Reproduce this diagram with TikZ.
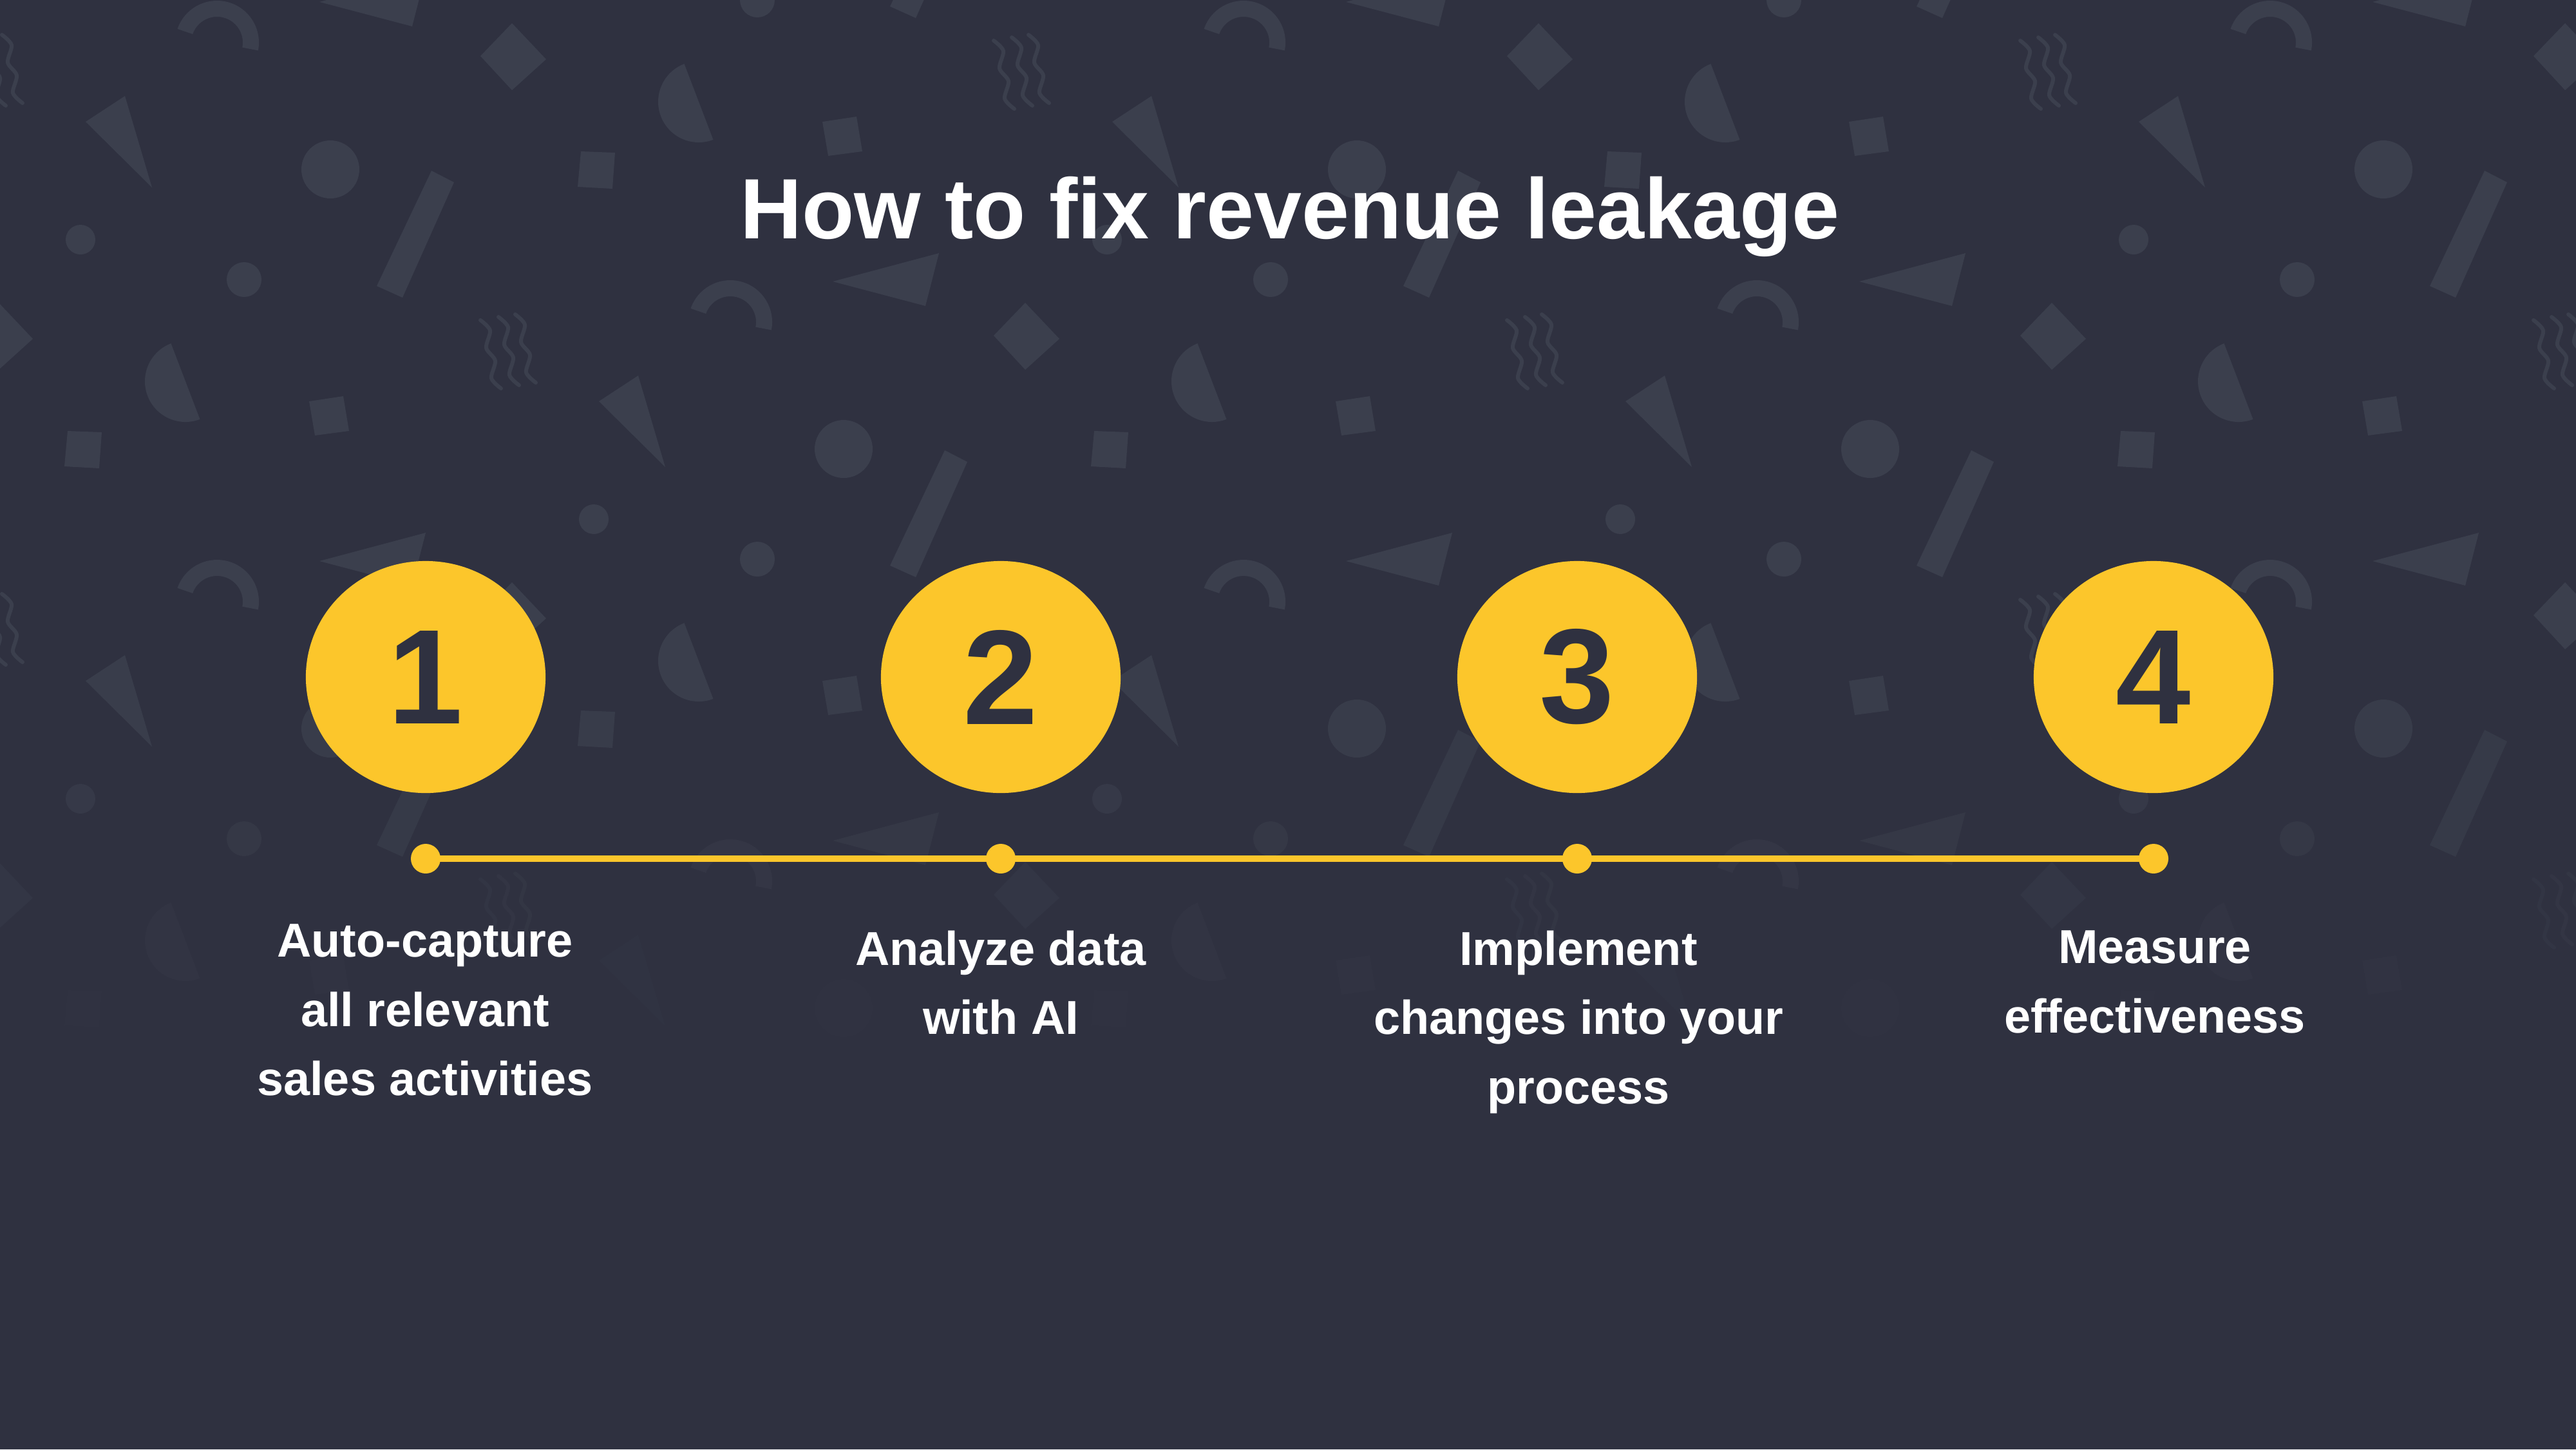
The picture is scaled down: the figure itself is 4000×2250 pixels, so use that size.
\documentclass[tikz,border=0pt]{standalone}
\usepackage{fontspec}
\setmainfont{Liberation Sans}
\usetikzlibrary{shapes.geometric}
\definecolor{bgc}{RGB}{47,49,64}
\definecolor{shapec}{RGB}{59,63,77}
\definecolor{yc}{RGB}{252,198,43}
\definecolor{numtxt}{RGB}{47,49,64}
\newcommand\fadeop[1]{\pgfmathtruncatemacro\shpop{max(0,min(100,(1600-(\tly+#1))/6))}}
\newcommand\shp[2]{\fadeop{#1}\fill[shapec!\shpop!bgc] #2;}
\newcommand\shpline[2]{\fadeop{#1}\draw[shapec!\shpop!bgc, line width=0.06cm, line cap=round, line join=round] #2;}
\newcommand\tileshapes{%
 \begin{scope}[shift={(\tlx,\tly)}]
  \shp{66}{(337,66) ++(11:65) arc[start angle=11,end angle=-161,radius=65] -- ++(-161:-25) arc[start angle=-161,end angle=11,radius=40] -- cycle}
  \shp{435}{(1293,437) -- (1458,393) -- (1437,475) -- cycle}
  \shp{88}{(795,36) -- (848,92) -- (795,140) -- (746,87) -- cycle}
  \shpline{550}{plot[smooth] coordinates {(746,497) (761,513) (755,540) (769,560) (763,587) (778,603)}}
  \shpline{545}{plot[smooth] coordinates {(774,492) (789,508) (783,535) (797,555) (791,582) (806,598)}}
  \shpline{540}{plot[smooth] coordinates {(800,488) (815,504) (809,531) (823,551) (817,578) (832,594)}}
  \shp{650}{(930,623) -- (991,583) -- (1033,725) -- cycle}
  \shp{263}{(513,263) circle[radius=45]}
  \shp{363}{(585,444) -- (625,462) -- (705,283) -- (670,265) -- cycle}
  \shp{264}{(902,235) -- (955,237) -- (951,293) -- (897,290) -- cycle}
  \shp{372}{(125,372) circle[radius=23]}
  \shp{434}{(379,434) circle[radius=27]}
  \shp{158}{(1085,158) ++(-110.9:63) arc[start angle=-110.9,end angle=-290.9,radius=63] -- cycle}
  \shp{212}{(1277,189) -- (1330,181) -- (1339,235) -- (1286,242) -- cycle}
 \end{scope}}
\tikzset{
  numc/.style={ellipse, fill=yc, minimum width=3.72cm, minimum height=3.6cm, inner sep=0pt,
    text=numtxt, font=\fontsize{59.5}{60}\selectfont\bfseries},
  dotn/.style={circle, fill=yc, minimum size=0.46cm, inner sep=0pt},
  lbl/.style={align=center, text=white, inner sep=0pt, anchor=north,
    font=\fontsize{21}{30.6}\selectfont\bfseries},
  ttl/.style={text=white, inner sep=0pt, anchor=base, font=\fontsize{37.8}{45}\selectfont\bfseries},
  tline/.style={draw=yc, line width=0.1cm}
}
\begin{document}
\begin{tikzpicture}[x=0.01cm, y=-0.01cm]
\useasboundingbox (0,0) rectangle (4000,2250);
\fill[bgc] (0,0) rectangle (4000,2250);
\begin{scope}
 \clip (0,0) rectangle (4000,2250);
 \foreach \j in {-1,...,3}{%
  \foreach \i in {-3,...,3}{%
   \pgfmathsetmacro\tlx{1594*\i+797*\j}%
   \pgfmathsetmacro\tly{434*\j}%
   \tileshapes
  }}
\end{scope}
\node[ttl] (title) at (2003,370) {How to fix revenue leakage};
\node[numc] (c1) at (661,1051) {1};
\node[numc] (c2) at (1554,1051) {2};
\node[numc] (c3) at (2449,1051) {3};
\node[numc] (c4) at (3344,1051) {4};
\node[dotn] (d1) at (661,1333) {};
\node[dotn] (d2) at (1554,1333) {};
\node[dotn] (d3) at (2449,1333) {};
\node[dotn] (d4) at (3344,1333) {};
\draw[tline] (d1.center) -- (d2.center) -- (d3.center) -- (d4.center);
\node[lbl] (t1) at (660,1434) {Auto-capture\\all relevant\\sales activities};
\node[lbl] (t2) at (1554,1444) {Analyze data\\with AI};
\node[lbl] (t3) at (2451,1444) {Implement\\changes into your\\process};
\node[lbl] (t4) at (3346,1444) {Measure\\effectiveness};
\end{tikzpicture}
\end{document}
